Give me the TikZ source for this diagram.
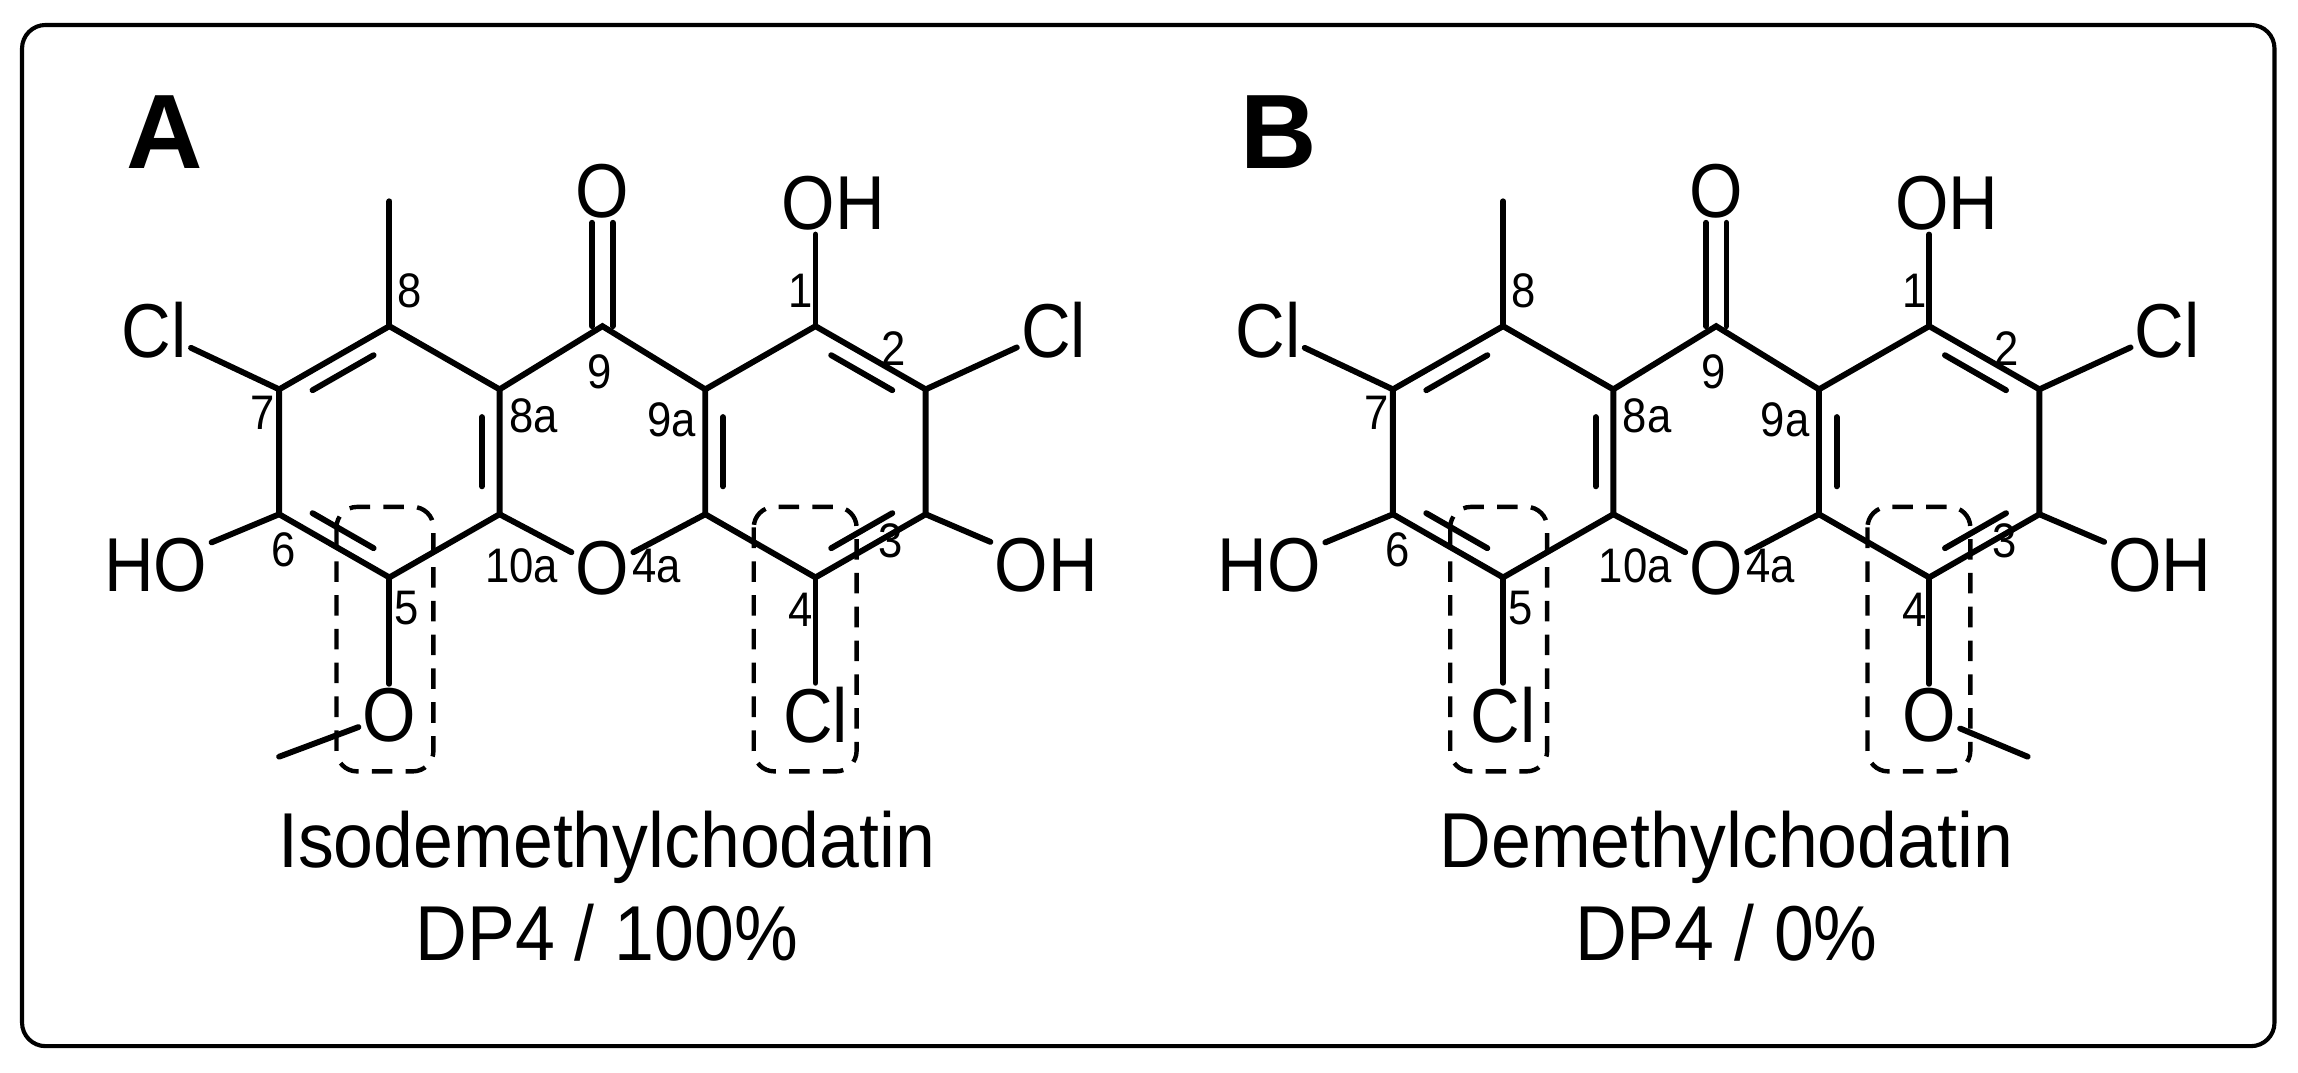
\documentclass[tikz,border=0pt]{standalone}
\usepackage{fontspec}
\setmainfont{Liberation Sans}
\usetikzlibrary{calc}
\tikzset{
 bond/.style={line width=4pt,line cap=round},
 atom/.style={font=\fontsize{52}{52}\selectfont,inner sep=3pt,xscale=0.9},
 num/.style={font=\fontsize{33}{33}\selectfont,inner sep=0pt,xscale=0.9},
 title/.style={font=\fontsize{53}{53}\selectfont,xscale=0.92},
 panel/.style={font=\fontsize{72}{72}\bfseries\selectfont},
 dbox/.style={line width=3pt,dashed,dash pattern=on 14pt off 9pt,rounded corners=14pt},
}
\newcommand{\inner}[3]{% a b center
 \draw[bond] ($($(#1)!0.17!(#2)$)!0.16!(#3)$) -- ($($(#1)!0.83!(#2)$)!0.16!(#3)$);}
\newcommand{\molecule}[3]{% #1 xshift, #2 substituent at 5 (O or Cl), #3 at 4
\begin{scope}[xshift=#1pt]
 \coordinate (c8) at (265,222); \coordinate (c8a) at (340,265);
 \coordinate (c10a) at (340,350); \coordinate (c5) at (265,393);
 \coordinate (c6) at (190,350); \coordinate (c7) at (190,265);
 \coordinate (c9) at (410,222);
 \coordinate (c9a) at (480,265); \coordinate (c1) at (555,222);
 \coordinate (c2) at (630,265); \coordinate (c3) at (630,350);
 \coordinate (c4) at (555,393); \coordinate (c4a) at (480,350);
 \coordinate (lc) at (265,307); \coordinate (rc) at (555,307);
 \coordinate (me8) at (265,137);
 \node[atom] (o10) at (410,387) {O};
 \node[atom] (o9) at (410,130) {O};
 \node[atom] (cl7) at (105,225) {Cl};
 \node[atom] (cl2) at (717,225) {Cl};
 \node[atom] (oh1) at (567,138) {OH};
 \node[atom] (ho6) at (106,385) {HO};
 \node[atom] (oh3) at (712,385) {OH};
 \node[atom] (s5) at (265,487) {#2};
 \node[atom] (s4) at (555,487) {#3};
 \draw[bond] (c8)--(c8a)--(c10a)--(c5)--(c6)--(c7)--cycle;
 \draw[bond] (c9a)--(c1)--(c2)--(c3)--(c4)--(c4a)--cycle;
 \draw[bond] (c8a)--(c9)--(c9a);
 \draw[bond] (c10a)--(o10)--(c4a);
 \draw[bond] ($(c9)+(-7,0)$)--($(o9.south)+(-7,0)$);
 \draw[bond] ($(c9)+(7,0)$)--($(o9.south)+(7,0)$);
 \draw[bond] (c8)--(me8);
 \draw[bond] (c7)--(cl7); \draw[bond] (c2)--(cl2);
 \draw[bond] (c1)--(oh1.south-|c1); \draw[bond] (c6)--(ho6);
 \draw[bond] (c3)--(oh3);
 \draw[bond] (c5)--(s5); \draw[bond] (c4)--(s4);
 \inner{c7}{c8}{lc} \inner{c5}{c6}{lc} \inner{c8a}{c10a}{lc}
 \inner{c1}{c2}{rc} \inner{c3}{c4}{rc} \inner{c9a}{c4a}{rc}
 \node[num] at (279,198) {8}; \node[num] at (408,253) {9};
 \node[num] at (545,198) {1}; \node[num] at (608,237) {2};
 \node[num] at (363,283) {8a}; \node[num] at (457,286) {9a};
 \node[num] at (179,281) {7}; \node[num] at (193,374) {6};
 \node[num] at (355,385) {10a}; \node[num] at (447,385) {4a};
 \node[num] at (606,368) {3}; \node[num] at (277,414) {5};
 \node[num] at (545,415) {4};
 \draw[dbox] (229,345) rectangle (295,525);
 \draw[dbox] (513,345) rectangle (583,525);
\end{scope}}
\begin{document}
\begin{tikzpicture}[x=1pt,y=-1pt]
\useasboundingbox (0,0) rectangle (1564,730);
\draw[line width=2.8pt,rounded corners=16pt] (15,17) rectangle (1548,712);
\node[panel] (pa) at (112,90) {A};
\node[panel] (pb) at (870,90) {B};
\molecule{0}{O}{Cl}
\draw[bond] (s5) -- (190,515);
\node[title] (na) at (413,577) {Isodemethylchodatin};
\node[title] (da) at (413,635) {DP4 / 100\%};
\molecule{758}{Cl}{O}
\draw[bond] (s4) -- (1380,515);
\node[title] (nb) at (1175,577) {Demethylchodatin};
\node[title] (db) at (1175,635) {DP4 / 0\%};
\end{tikzpicture}
\end{document}
